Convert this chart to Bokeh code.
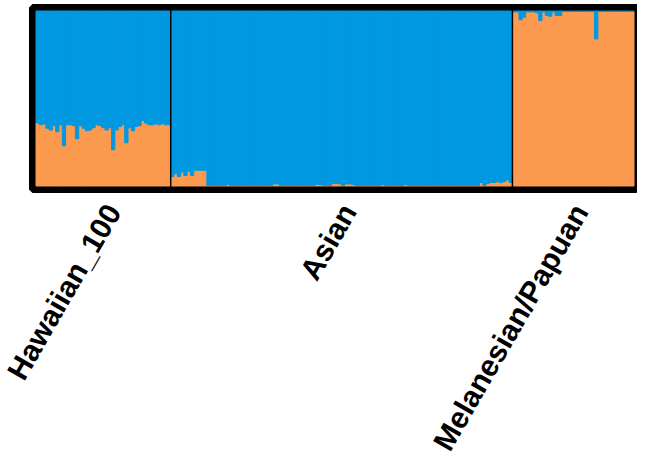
import math
from bokeh.plotting import figure
from bokeh.models import Range1d, FixedTicker, Span, ColumnDataSource
from bokeh.embed import file_html
from bokeh.resources import INLINE

# ---------------- data ----------------
populations = ["Hawaiian_100", "Asian", "Melanesian/Papuan"]

# ancestry fraction of the orange cluster (bottom) per individual
hawaiian_orange = [0.36, 0.35, 0.355, 0.33, 0.32, 0.345, 0.31, 0.35, 0.23, 0.35,
                   0.35, 0.345, 0.27, 0.345, 0.33, 0.316, 0.32, 0.333, 0.35, 0.345,
                   0.333, 0.32, 0.333, 0.207, 0.32, 0.34, 0.35, 0.247, 0.333, 0.316,
                   0.34, 0.345, 0.374, 0.36, 0.35, 0.35, 0.355, 0.35, 0.355, 0.35,
                   0.35]

asian_orange = [0.055, 0.07, 0.055, 0.08, 0.06, 0.085, 0.06, 0.09, 0.09, 0.09,
                0.09, 0.004, 0.004, 0.004, 0.004, 0.004, 0.004, 0.01, 0.004, 0.004,
                0.004, 0.004, 0.004, 0.004, 0.004, 0.004, 0.004, 0.004, 0.004, 0.004,
                0.004, 0.012, 0.012, 0.004, 0.004, 0.004, 0.004, 0.004, 0.004, 0.004,
                0.004, 0.004, 0.004, 0.004, 0.01, 0.008, 0.004, 0.004, 0.004, 0.015,
                0.015, 0.012, 0.004, 0.012, 0.012, 0.01, 0.004, 0.004, 0.004, 0.004,
                0.004, 0.004, 0.004, 0.004, 0.008, 0.004, 0.004, 0.004, 0.004, 0.004,
                0.004, 0.008, 0.004, 0.004, 0.004, 0.004, 0.004, 0.004, 0.004, 0.004,
                0.004, 0.004, 0.004, 0.004, 0.004, 0.004, 0.004, 0.004, 0.004, 0.004,
                0.004, 0.004, 0.004, 0.004, 0.02, 0.004, 0.015, 0.02, 0.02, 0.025,
                0.02, 0.025, 0.035, 0.02]

# ancestry fraction of the blue cluster (top) per individual
melanesian_blue = [0.005, 0.005, 0.05, 0.035, 0.005, 0.005, 0.005, 0.01, 0.055, 0.005,
                   0.025, 0.03, 0.005, 0.025, 0.025, 0.003, 0.003, 0.003, 0.003, 0.003,
                   0.003, 0.003, 0.003, 0.003, 0.003, 0.16, 0.003, 0.003, 0.003, 0.003,
                   0.003, 0.003, 0.003, 0.003, 0.003, 0.003, 0.003]

ORANGE = "#FB9A4F"
BLUE = "#0098E0"

# ---------------- build ----------------
orange = hawaiian_orange + asian_orange + [1 - b for b in melanesian_blue]
blue = [1 - o for o in orange]
n = len(orange)
xs = list(range(n))
src = ColumnDataSource(dict(x=xs, orange=orange, blue=blue))

counts = [len(hawaiian_orange), len(asian_orange), len(melanesian_blue)]

FRAME_W, FRAME_H = 605, 182
BORDER = 7
px_per_bar = (FRAME_W - BORDER) / n
padx = (BORDER / 2) / px_per_bar
pady = (BORDER / 2) / (FRAME_H - BORDER)

p = figure(frame_width=FRAME_W, frame_height=FRAME_H,
           output_backend="svg", toolbar_location=None,
           x_range=Range1d(-0.5 - padx, n - 0.5 + padx),
           y_range=Range1d(0 - pady, 1 + pady),
           y_axis_location=None,
           min_border_left=32, min_border_right=0, min_border_top=7,
           min_border_bottom=4)

p.vbar_stack(["orange", "blue"], x="x", width=1.0, color=[ORANGE, BLUE],
             line_width=1.0, source=src)

# population separators
edges = []
acc = 0
for c in counts[:-1]:
    acc += c
    edges.append(acc - 0.5)
for e in edges:
    p.add_layout(Span(location=e, dimension="height", line_color="black",
                      line_width=1.5))

# frame border
p.outline_line_color = "black"
p.outline_line_width = BORDER
p.outline_line_alpha = 1.0

p.grid.visible = False
p.background_fill_color = "white"
p.border_fill_color = "white"

# group labels on the x axis
label_shift = 7 / px_per_bar
starts = [0]
for c in counts[:-1]:
    starts.append(starts[-1] + c)
centers = [round(s - 0.5 + c / 2 + label_shift, 3) for s, c in zip(starts, counts)]
ax = p.xaxis[0]
ax.ticker = FixedTicker(ticks=centers)
ax.major_label_overrides = {c: name for c, name in zip(centers, populations)}
ax.major_label_orientation = math.pi / 3
ax.major_label_text_font = "Liberation Sans"
ax.major_label_text_font_style = "bold"
ax.major_label_text_font_size = "30px"
ax.major_label_text_color = "black"
ax.axis_line_color = None
ax.major_tick_line_color = None
ax.minor_tick_line_color = None
ax.major_tick_out = 0
ax.major_tick_in = 0
ax.major_label_standoff = 17

open("out.html", "w").write(file_html(p, INLINE))
